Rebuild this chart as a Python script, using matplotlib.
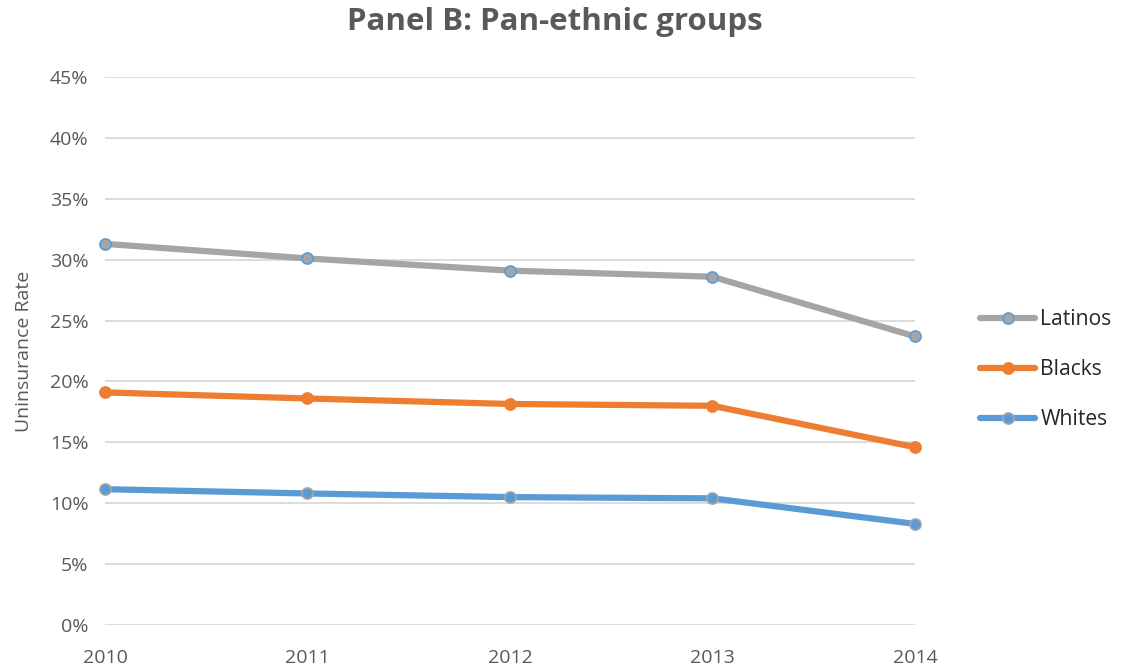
import matplotlib.pyplot as plt
from matplotlib.ticker import PercentFormatter

plt.rcParams['font.family'] = ['Open Sans', 'DejaVu Sans']

years = [2010, 2011, 2012, 2013, 2014]
latinos = [31.3, 30.1, 29.1, 28.6, 23.7]
blacks = [19.1, 18.6, 18.15, 18.0, 14.6]
whites = [11.15, 10.8, 10.5, 10.4, 8.3]

series = [
    ('Latinos', latinos, '#a5a5a5', '#a5a5a5', '#5b9bd5'),
    ('Blacks', blacks, '#ed7d31', '#ed7d31', '#ed7d31'),
    ('Whites', whites, '#5b9bd5', '#5b9bd5', '#a5a5a5'),
]

fig = plt.figure(figsize=(11.24, 6.71), dpi=100)
ax = fig.add_axes([0.0934, 0.0686, 0.7206, 0.8166])

for name, vals, lc, fc, ec in series:
    ax.plot(years, vals, color=lc, lw=4.5, marker='o', markersize=8,
            markerfacecolor=fc, markeredgecolor=ec, markeredgewidth=1.2,
            label=name, solid_capstyle='round', zorder=3, clip_on=False)

ax.set_xlim(2010, 2014)
ax.set_ylim(0, 45)
ax.set_yticks(range(0, 46, 5))
ax.set_xticks(years)
ax.yaxis.set_major_formatter(PercentFormatter(decimals=0))
ax.grid(axis='y', color='#d9d9d9', lw=1.3)
ax.set_axisbelow(True)
for s in ax.spines.values():
    s.set_visible(False)
ax.tick_params(length=0, labelsize=14, colors='#595959', pad=12)
ax.tick_params(axis='x', pad=17)
ax.set_ylabel('Uninsurance Rate', fontsize=14, color='#595959', labelpad=12)

# title centred over the whole figure like the original
fig.suptitle('Panel B: Pan-ethnic groups', fontsize=22.5, fontweight='bold',
             color='#595959', x=0.494, y=0.99, va='top')

leg = ax.legend(loc='center left', bbox_to_anchor=(1.057, 0.466), frameon=False,
                fontsize=15.2, labelspacing=1.38, handlelength=2.6, handletextpad=0.25)
for t in leg.get_texts():
    t.set_color('#262626')

fig.savefig('out.png', dpi=100)
